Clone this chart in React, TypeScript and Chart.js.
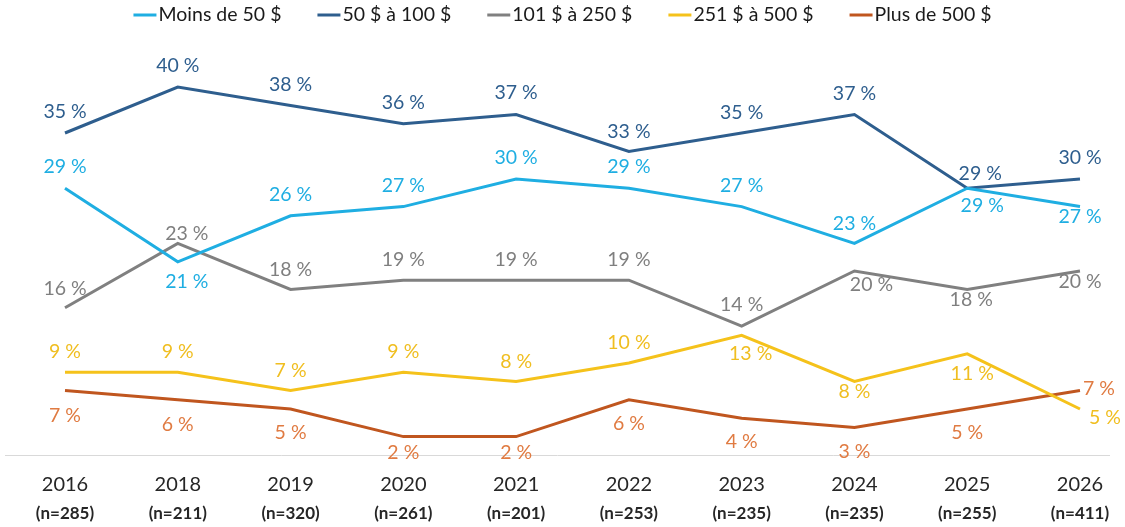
import React, { useEffect, useRef } from "react";
import { Chart, registerables } from "chart.js";

Chart.register(...registerables);

const categories = ["2016", "2018", "2019", "2020", "2021", "2022", "2023", "2024", "2025", "2026"];
const sampleSizes = ["(n=285)", "(n=211)", "(n=320)", "(n=261)", "(n=201)", "(n=253)", "(n=235)", "(n=235)", "(n=255)", "(n=411)"];

const seriesNames = ["Moins de 50 $", "50 $ à 100 $", "101 $ à 250 $", "251 $ à 500 $", "Plus de 500 $"];
const moinsDe50 = [29, 21, 26, 27, 30, 29, 27, 23, 29, 27];
const de50a100 = [35, 40, 38, 36, 37, 33, 35, 37, 29, 30];
const de101a250 = [16, 23, 18, 19, 19, 19, 14, 20, 18, 20];
const de251a500 = [9, 9, 7, 9, 8, 10, 13, 8, 11, 5];
const plusDe500 = [7, 6, 5, 2, 2, 6, 4, 3, 5, 7];

// styling: line colours, label colours and label placement (px offsets from point)
const lineColors = ["#1FAEE2", "#2E5E8E", "#808080", "#F5C21B", "#C0561F"];
const labelColors = ["#1FAEE2", "#2E5E8E", "#7F7F7F", "#F0BE20", "#E07B42"];
const labelOffsets: number[][][] = [
  [[0, -21], [9, 20], [0, -21], [0, -21], [0, -21], [0, -21], [0, -21], [0, -20], [15, 18], [0, 10]],
  [[0, -21], [0, -21], [0, -21], [0, -21], [0, -22], [0, -20], [0, -20], [0, -21], [13, -14], [0, -21]],
  [[0, -19], [9, -10], [0, -20], [0, -20], [0, -20], [0, -20], [0, -21], [17, 14], [4, 10], [0, 11]],
  [[0, -20], [0, -20], [0, -20], [0, -20], [0, -20], [0, -20], [9, 18], [0, 10], [5, 20], [25, 9]],
  [[0, 25], [0, 25], [0, 24], [0, 16], [0, 16], [0, 24], [0, 24], [0, 24], [0, 24], [19, -2]],
];

const FONT = "Lato, 'Open Sans', sans-serif";

const overlayPlugin = {
  id: "overlay",
  afterDatasetsDraw(chart: any) {
    const ctx = chart.ctx;
    const xs = chart.scales.x;
    const ys = chart.scales.y;
    ctx.save();
    // baseline
    const y0 = Math.round(ys.getPixelForValue(0)) + 0.5;
    ctx.strokeStyle = "#D9D9D9";
    ctx.lineWidth = 1;
    ctx.beginPath();
    ctx.moveTo(5, y0);
    ctx.lineTo(1110, y0);
    ctx.stroke();

    // data labels
    ctx.font = `19.5px ${FONT}`;
    ctx.textAlign = "center";
    ctx.textBaseline = "middle";
    chart.data.datasets.forEach((ds: any, di: number) => {
      const meta = chart.getDatasetMeta(di);
      meta.data.forEach((pt: any, i: number) => {
        const off = labelOffsets[di][i];
        ctx.fillStyle = labelColors[di];
        ctx.fillText(`${ds.data[i]} %`, pt.x + off[0], pt.y + off[1]);
      });
    });

    // category labels
    categories.forEach((c, i) => {
      const x = xs.getPixelForValue(i);
      ctx.fillStyle = "#262626";
      ctx.font = `20px ${FONT}`;
      ctx.fillText(c, x, 485);
      ctx.font = `bold 17px ${FONT}`;
      ctx.fillText(sampleSizes[i], x, 514);
    });

    // legend
    ctx.font = `19.5px ${FONT}`;
    const marker = 23;
    const gapText = 2;
    const gapItem = 36;
    const widths = seriesNames.map((n) => ctx.measureText(n).width);
    const total = widths.reduce((a, w) => a + marker + gapText + w, 0) + gapItem * (seriesNames.length - 1);
    let x = chart.width / 2 - total / 2;
    const ly = 15;
    ctx.textAlign = "left";
    seriesNames.forEach((n, i) => {
      ctx.strokeStyle = lineColors[i];
      ctx.lineWidth = 3;
      ctx.beginPath();
      ctx.moveTo(x, ly);
      ctx.lineTo(x + marker, ly);
      ctx.stroke();
      ctx.fillStyle = "#1A1A1A";
      ctx.fillText(n, x + marker + gapText, ly);
      x += marker + gapText + widths[i] + gapItem;
    });
    ctx.restore();
  },
};

export default function App() {
  const ref = useRef<HTMLCanvasElement | null>(null);
  useEffect(() => {
    document.body.style.margin = "0";
    if (!ref.current) return;
    const series = [moinsDe50, de50a100, de101a250, de251a500, plusDe500];
    const chart = new Chart(ref.current, {
      type: "line",
      data: {
        labels: categories,
        datasets: series.map((d, i) => ({
          label: seriesNames[i],
          data: d,
          borderColor: lineColors[i],
          backgroundColor: lineColors[i],
          borderWidth: 3,
          pointRadius: 0,
          tension: 0,
          fill: false,
        })),
      },
      options: {
        animation: false,
        responsive: false,
        maintainAspectRatio: false,
        layout: { padding: { left: 65, right: 45, top: 41, bottom: 72 } },
        plugins: { legend: { display: false }, tooltip: { enabled: false } },
        scales: {
          x: { display: false, offset: false },
          y: { display: false, min: 0, max: 45 },
        },
      },
      plugins: [overlayPlugin],
    });
    return () => chart.destroy();
  }, []);
  return (
    <div style={{ position: "absolute", left: 0, top: 0, width: 1125, height: 527, background: "#fff" }}>
      <canvas ref={ref} width={1125} height={527} style={{ width: 1125, height: 527 }} />
    </div>
  );
}
